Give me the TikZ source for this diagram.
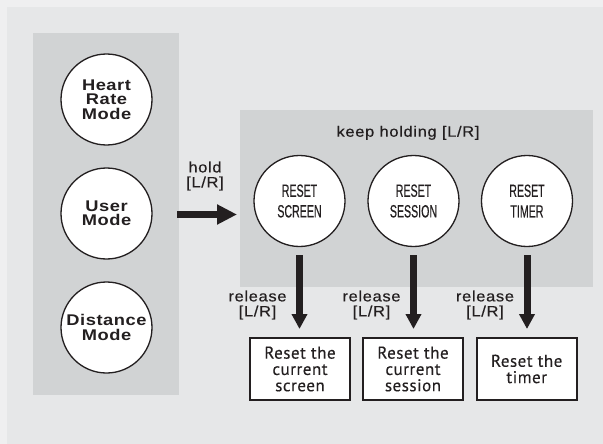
\documentclass[tikz,border=0pt]{standalone}
\usepackage{fontspec}
\setmainfont{Liberation Sans}
\newfontfamily\circfont{Liberation Sans}[LetterSpace=3]
\newfontfamily\labfont{Liberation Sans}[LetterSpace=4,FakeBold=0.4]
\newfontfamily\boxfont{PT Sans}[LetterSpace=3,FakeBold=0.3]
\newfontfamily\lcdfont{Liberation Sans}[FakeBold=0.5]
\usetikzlibrary{arrows.meta}
\definecolor{bgc}{HTML}{E6E7E8}
\definecolor{edgec}{HTML}{EFEFF0}
\definecolor{panelc}{HTML}{D1D3D4}
\definecolor{inkc}{HTML}{231F20}
\newcommand{\lcdtext}[1]{\scalebox{0.6}[1]{#1}}
\newcommand{\widetext}[1]{\scalebox{1.18}[1]{#1}}
\newcommand{\labtext}[1]{\scalebox{1.1}[1]{#1}}
\begin{document}
\begin{tikzpicture}[x=1pt,y=-1pt,
 panel/.style={fill=panelc, draw=none, inner sep=0pt, outer sep=0pt},
 mode/.style={circle, draw=inkc, line width=1.3pt, fill=white, minimum size=91pt, inner sep=0pt, align=center, text=inkc, font=\circfont\bfseries\fontsize{15.5}{14.3}\selectfont},
 reset/.style={circle, draw=inkc, line width=1.3pt, fill=white, minimum size=91pt, inner sep=0pt, align=center, text=inkc, font=\lcdfont\fontsize{17.7}{20.6}\selectfont},
 result/.style={rectangle, draw=inkc, line width=2pt, fill=white, minimum width=100pt, minimum height=62pt, inner sep=0pt, align=center, text=inkc, font=\boxfont\fontsize{17}{16.3}\selectfont},
 lab/.style={align=center, text=inkc, font=\labfont\fontsize{15}{15}\selectfont, inner sep=0pt},
 bigarrow/.style={draw=inkc, line width=7.5pt, -{Triangle[length=20pt,width=19pt]}},
 downarrow/.style={draw=inkc, line width=7pt, -{Triangle[length=15pt,width=15pt]}}
]
\useasboundingbox (0,0) rectangle (603,444);
\fill[edgec] (0,0) rectangle (603,444);
\fill[bgc] (7,7) rectangle (603,444);

% panels
\node[panel, minimum width=146pt, minimum height=362pt] (left) at (106,214) {};
\node[panel, minimum width=353pt, minimum height=177pt] (right) at (416.5,198.5) {};

% mode circles
\node[mode] (hr) at (106.5,99.5) {\widetext{Heart}\\\widetext{Rate}\\\widetext{Mode}};
\node[mode] (um) at (106.5,213.5) {\widetext{User}\\\widetext{Mode}};
\node[mode] (dm) at (106.5,327.5) {\widetext{Distance}\\\widetext{Mode}};

% reset circles
\node[reset] (rs) at (299.5,201) {\lcdtext{RESET}\\\lcdtext{SCREEN}};
\node[reset] (rss) at (413.5,201) {\lcdtext{RESET}\\\lcdtext{SESSION}};
\node[reset] (rt) at (527,201) {\lcdtext{RESET}\\\lcdtext{TIMER}};

% result boxes
\node[result] (b1) at (300,369) {Reset the\\current\\screen};
\node[result] (b2) at (413,369) {Reset the\\current\\session};
\node[result] (b3) at (526.7,369) {Reset the\\timer};

% labels
\node[lab, anchor=base] (keep) at (408,136.7) {\labtext{keep holding [L/R]}};
\node[lab] (hold) at (205,176) {\labtext{hold}\\\labtext{[L/R]}};
\node[lab] (rel1) at (257.5,305) {\labtext{release}\\\labtext{[L/R]}};
\node[lab] (rel2) at (371.5,305) {\labtext{release}\\\labtext{[L/R]}};
\node[lab] (rel3) at (485,305) {\labtext{release}\\\labtext{[L/R]}};

% arrows
\draw[bigarrow, shorten <=-2pt, shorten >=3pt] ([shift={(0,0.5)}]left.east) -- ([shift={(0,0.5)}]left.east -| right.west);
\draw[downarrow, shorten <=8pt, shorten >=8pt] (rs.south) -- (rs.south |- b1.north);
\draw[downarrow, shorten <=8pt, shorten >=8pt] (rss.south) -- (rss.south |- b2.north);
\draw[downarrow, shorten <=8pt, shorten >=8pt] (rt.south) -- (rt.south |- b3.north);
\end{tikzpicture}
\end{document}
